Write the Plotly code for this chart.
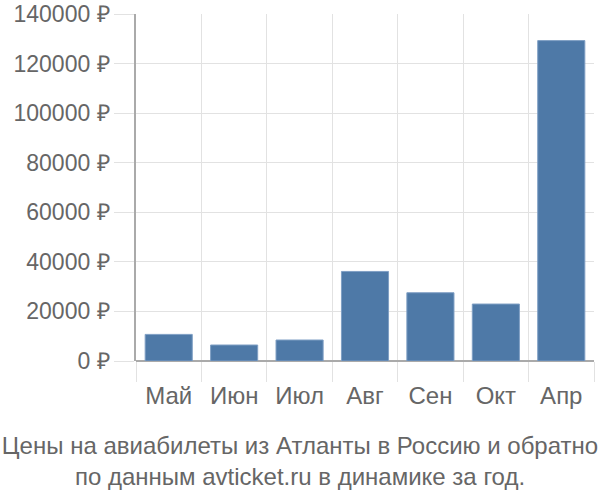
import plotly.graph_objects as go

months = ["Май", "Июн", "Июл", "Авг", "Сен", "Окт", "Апр"]
prices = [10730, 6450, 8470, 36130, 27540, 22980, 129270]
y_ticks = [0, 20000, 40000, 60000, 80000, 100000, 120000, 140000]
y_tick_labels = [f"{v} ₽" for v in y_ticks]

title_text = "Цены на авиабилеты из Атланты в Россию и обратно<br>по данным avticket.ru в динамике за год."

fig = go.Figure()
fig.add_trace(go.Bar(
    x=months, y=prices,
    marker=dict(color="#4e79a7", line=dict(color="#7f9fc4", width=1)),
    hoverinfo="x+y",
))

fig.update_layout(
    width=600, height=500,
    margin=dict(l=136, r=6, t=14, b=139, autoexpand=False),
    paper_bgcolor="white", plot_bgcolor="white",
    bargap=0.28,
    showlegend=False,
    font=dict(family="Liberation Sans, Arial, sans-serif", color="#666666", size=23),
    title=dict(text=title_text, x=0.5, xref="container", xanchor="center",
               y=0.093, yref="container", yanchor="middle",
               font=dict(size=24, color="#666666")),
)
fig.update_xaxes(
    type="category", tickson="boundaries",
    showgrid=True, gridcolor="#e2e2e2", gridwidth=1,
    ticks="outside", ticklen=20, tickcolor="#e2e2e2",
    ticklabelstandoff=18,
    tickfont=dict(size=24, color="#666666"),
    showline=False,
)
fig.update_yaxes(
    range=[0, 140000], tickvals=y_ticks, ticktext=y_tick_labels,
    showgrid=True, gridcolor="#e2e2e2", gridwidth=1,
    ticks="outside", ticklen=20, tickcolor="#e2e2e2",
    tickfont=dict(size=23, color="#666666"),
    zeroline=True, zerolinecolor="#aaaaaa", zerolinewidth=1.5,
    showline=True, linecolor="#aaaaaa", linewidth=1.5,
)

fig.write_html("out.html", config={"displayModeBar": False},
               post_script="document.body.style.margin='0';")
